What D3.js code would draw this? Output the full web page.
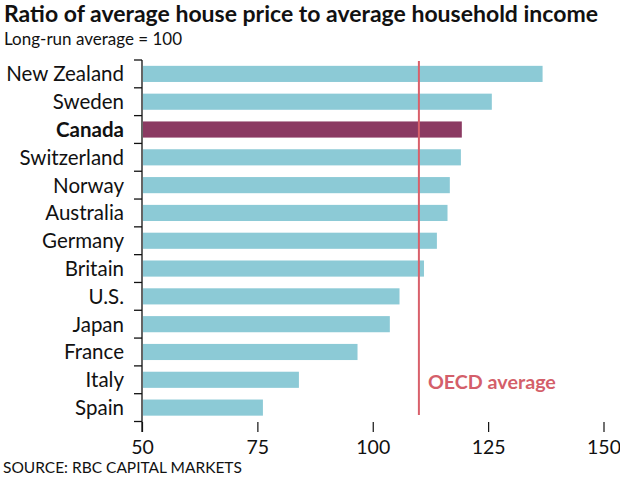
<!DOCTYPE html>
<html>
<head>
<meta charset="utf-8">
<script src="https://cdn.jsdelivr.net/npm/d3@7"></script>
<style>
  body { margin: 0; background: #fff; }
  text { font-family: Lato, "Open Sans", sans-serif; fill: #111; }
</style>
</head>
<body>
<svg id="svg" width="620" height="481"></svg>
<script>
const countries = ['New Zealand', 'Sweden', 'Canada', 'Switzerland', 'Norway', 'Australia', 'Germany',
  'Britain', 'U.S.', 'Japan', 'France', 'Italy', 'Spain'];
const ratios = [136.8, 125.8, 119.3, 119.1, 116.7, 116.2, 113.9, 111.1, 105.8, 103.7, 96.7, 84.0, 76.2];
const highlight = 'Canada';
const oecdAverage = 110;
const xTicks = [50, 75, 100, 125, 150];

const svg = d3.select('#svg');

const x = d3.scaleLinear().domain([50, 150]).range([142, 603.5]);
const y = d3.scaleBand().domain(countries).range([60, 421.5]).paddingInner(0.42).paddingOuter(0.21);

svg.append('text').attr('x', 4).attr('y', 22)
  .style('font-size', '23px').style('font-weight', 700)
  .text('Ratio of average house price to average household income');
svg.append('text').attr('x', 4).attr('y', 45)
  .style('font-size', '17px')
  .text('Long-run average = 100');

// bars
svg.append('g').selectAll('rect').data(countries).join('rect')
  .attr('x', x(50) + 1)
  .attr('y', (d) => y(d))
  .attr('width', (d, i) => x(ratios[i]) - x(50) - 1)
  .attr('height', y.bandwidth())
  .attr('fill', (d) => d === highlight ? '#8b3a62' : '#8ccad6');

// y axis: line plus ticks between bars
const step = y.step();
const yTicks = d3.range(countries.length + 1).map((i) => 60 + i * step);
const gy = svg.append('g');
gy.append('line').attr('x1', x(50)).attr('x2', x(50)).attr('y1', 60).attr('y2', 432)
  .attr('stroke', '#111').attr('stroke-width', 1.3);
gy.selectAll('.tick').data(yTicks).join('line')
  .attr('x1', x(50) - 8).attr('x2', x(50)).attr('y1', (d) => d).attr('y2', (d) => d)
  .attr('stroke', '#111').attr('stroke-width', 1.3);

svg.append('g').selectAll('text').data(countries).join('text')
  .attr('x', 124)
  .attr('y', (d) => y(d) + y.bandwidth() / 2)
  .attr('dy', '0.36em')
  .attr('text-anchor', 'end')
  .style('font-size', '20.5px')
  .style('font-weight', (d) => d === highlight ? 700 : 400)
  .text((d) => d);

// x axis: short ticks, no domain line
const gx = svg.append('g').attr('transform', 'translate(0,422)')
  .call(d3.axisBottom(x).tickValues(xTicks).tickSize(10).tickPadding(8));
gx.select('.domain').remove();
gx.selectAll('.tick line').attr('stroke', '#111').attr('stroke-width', 1.2);
gx.selectAll('.tick text').style('font-size', '19.5px').attr('fill', '#111')
  .style('font-family', 'Lato, sans-serif');

// OECD reference
svg.append('line').attr('x1', x(oecdAverage)).attr('x2', x(oecdAverage))
  .attr('y1', 61).attr('y2', 415)
  .attr('stroke', '#d9606b').attr('stroke-width', 2);
svg.append('text').attr('x', x(oecdAverage) + 9).attr('y', 389)
  .style('font-size', '19.7px').style('font-weight', 700).style('fill', '#d45f6a')
  .text('OECD average');

svg.append('text').attr('x', 3).attr('y', 473)
  .style('font-size', '15.5px')
  .text('SOURCE: RBC CAPITAL MARKETS');
</script>
</body>
</html>
